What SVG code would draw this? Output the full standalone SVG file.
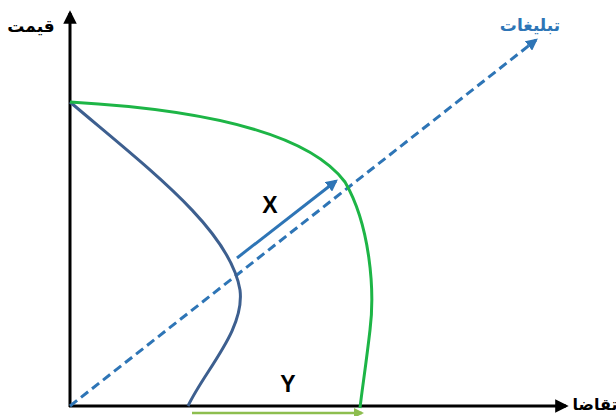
<svg xmlns="http://www.w3.org/2000/svg" width="616" height="416" viewBox="0 0 616 416">
  <defs>
    <style>
      .axis{stroke:#000;stroke-width:3;fill:none}
      .lbl{font-family:"Noto Sans","DejaVu Sans",sans-serif;font-weight:bold}
      .xy{font-family:"Liberation Sans",Arial,sans-serif;font-weight:bold;font-size:23px;fill:#000}
    </style>
    <marker id="ah" viewBox="0 0 10 10" refX="8" refY="5" markerWidth="4.5" markerHeight="4.5" orient="auto" markerUnits="strokeWidth">
      <path d="M0,0 L10,5 L0,10 z" fill="#000"/>
    </marker>
    <marker id="ahb" viewBox="0 0 10 10" refX="8" refY="5" markerWidth="4" markerHeight="4" orient="auto" markerUnits="strokeWidth">
      <path d="M0,0 L10,5 L0,10 z" fill="#2E75B6"/>
    </marker>
    <marker id="ahg" viewBox="0 0 10 10" refX="8" refY="5" markerWidth="4" markerHeight="4" orient="auto" markerUnits="strokeWidth">
      <path d="M0,0 L10,5 L0,10 z" fill="#8DBE4F"/>
    </marker>
  </defs>
  <rect width="616" height="416" fill="#fff"/>
  <g id="connectors">
    <line id="y-axis" class="axis" x1="70" y1="407" x2="70" y2="13" marker-end="url(#ah)"/>
    <line id="x-axis" class="axis" x1="69" y1="406" x2="566" y2="406" marker-end="url(#ah)"/>
    <line id="ads-line" x1="70" y1="406" x2="536" y2="40" stroke="#2E75B6" stroke-width="3" stroke-dasharray="9,5" marker-end="url(#ahb)"/>
    <line id="shift-x" x1="237" y1="258" x2="336" y2="181" stroke="#2E75B6" stroke-width="3" marker-end="url(#ahb)"/>
    <line id="shift-y" x1="192" y1="413" x2="362" y2="413" stroke="#8DBE4F" stroke-width="2.5" marker-end="url(#ahg)"/>
  </g>
  <g id="curve-blue">
    <path d="M70,102 C150,170 230,230 240,290 C245,330 205,370 188,406" fill="none" stroke="#3D5F8F" stroke-width="3"/>
  </g>
  <g id="curve-green">
    <path d="M70,102 C210,110 310,135 345,182 C370,225 375,290 370,330 C366,365 362,390 360,408" fill="none" stroke="#1DB546" stroke-width="3"/>
  </g>
  <g id="labels">
    <text class="lbl" x="31" y="32" font-size="17" text-anchor="middle" direction="rtl" fill="#000">قیمت</text>
    <text class="lbl" x="530" y="31" font-size="17" text-anchor="middle" direction="rtl" fill="#2E75B6">تبلیغات</text>
    <text class="lbl" x="595" y="410" font-size="16" text-anchor="middle" direction="rtl" fill="#000">تقاضا</text>
    <text class="xy" x="270" y="213" text-anchor="middle">X</text>
    <text class="xy" x="288" y="392" text-anchor="middle">Y</text>
  </g>
</svg>
